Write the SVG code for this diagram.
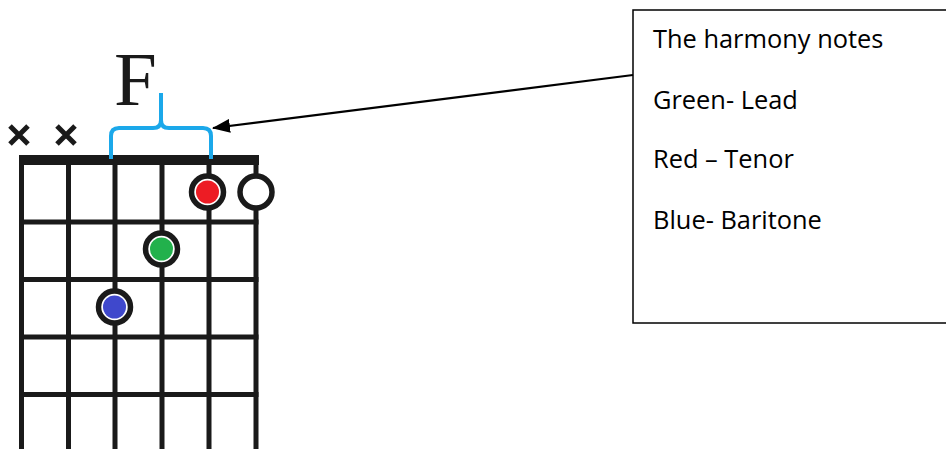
<svg xmlns="http://www.w3.org/2000/svg" width="946" height="449" viewBox="0 0 946 449">
<defs>
<style>
.str{stroke:#1a1a1a;stroke-width:5;fill:none}
.x{stroke:#1a1a1a;stroke-width:5;stroke-linecap:butt}
.ring{fill:#fff;stroke:#1a1a1a;stroke-width:5.5}
.brace{fill:none;stroke:#1ba8ea;stroke-width:4;stroke-linejoin:round}
.lbl{font-family:"Open Sans","Liberation Sans",sans-serif;font-size:25.4px;fill:#000}
</style>
<marker id="ah" markerUnits="userSpaceOnUse" markerWidth="18" markerHeight="14" refX="17" refY="7" orient="auto">
<path d="M0,0 L18,7 L0,14 Z" fill="#000"/>
</marker>
</defs>
<rect width="946" height="449" fill="#fff"/>
<g id="chord">
<g id="strings">
<line class="str" x1="21.5" y1="160" x2="21.5" y2="449"/>
<line class="str" x1="68.5" y1="160" x2="68.5" y2="449"/>
<line class="str" x1="115" y1="160" x2="115" y2="449"/>
<line class="str" x1="162" y1="160" x2="162" y2="449"/>
<line class="str" x1="209" y1="160" x2="209" y2="449"/>
<line class="str" x1="256" y1="160" x2="256" y2="449"/>
</g>
<g id="frets">
<rect x="19" y="155" width="240" height="10" fill="#1a1a1a"/>
<line class="str" x1="19" y1="222" x2="258.5" y2="222"/>
<line class="str" x1="19" y1="279.5" x2="258.5" y2="279.5"/>
<line class="str" x1="19" y1="337" x2="258.5" y2="337"/>
<line class="str" x1="19" y1="394.5" x2="258.5" y2="394.5"/>
</g>
<g id="mutes">
<path class="x" d="M10,126 L28,144 M28,126 L10,144"/>
<path class="x" d="M57,126 L75,144 M75,126 L57,144"/>
</g>
<g id="open-e">
<circle class="ring" cx="256" cy="192" r="16"/>
</g>
<g id="red-dot">
<circle class="ring" cx="207.5" cy="192" r="16"/>
<circle cx="207.5" cy="192" r="11.5" fill="#ed1c24"/>
</g>
<g id="green-dot">
<circle class="ring" cx="161.5" cy="249" r="16"/>
<circle cx="161.5" cy="249" r="11.5" fill="#22b14c"/>
</g>
<g id="blue-dot">
<circle class="ring" cx="114.5" cy="307" r="16"/>
<circle cx="114.5" cy="307" r="11.5" fill="#3f48cc"/>
</g>
</g>
<g id="f-label">
<text x="114" y="105" font-family="'Liberation Serif',serif" font-size="77" fill="#1a1a1a">F</text>
<path class="brace" d="M111,159 V136 Q111,128 119,128 H153 Q161,128 161,120 V93 M161,120 Q161,128 169,128 H203 Q211,128 211,136 V159"/>
</g>
<g id="legend">
<rect x="633" y="10" width="330" height="313" fill="#fff" stroke="#000" stroke-width="1.5"/>
<text class="lbl" x="653" y="48">The harmony notes</text>
<text class="lbl" x="653" y="109">Green- Lead</text>
<text class="lbl" x="653" y="168">Red – Tenor</text>
<text class="lbl" x="653" y="229">Blue- Baritone</text>
</g>
<g id="connectors">
<line x1="633" y1="75" x2="213" y2="128" stroke="#000" stroke-width="2.2" marker-end="url(#ah)"/>
</g>
</svg>
